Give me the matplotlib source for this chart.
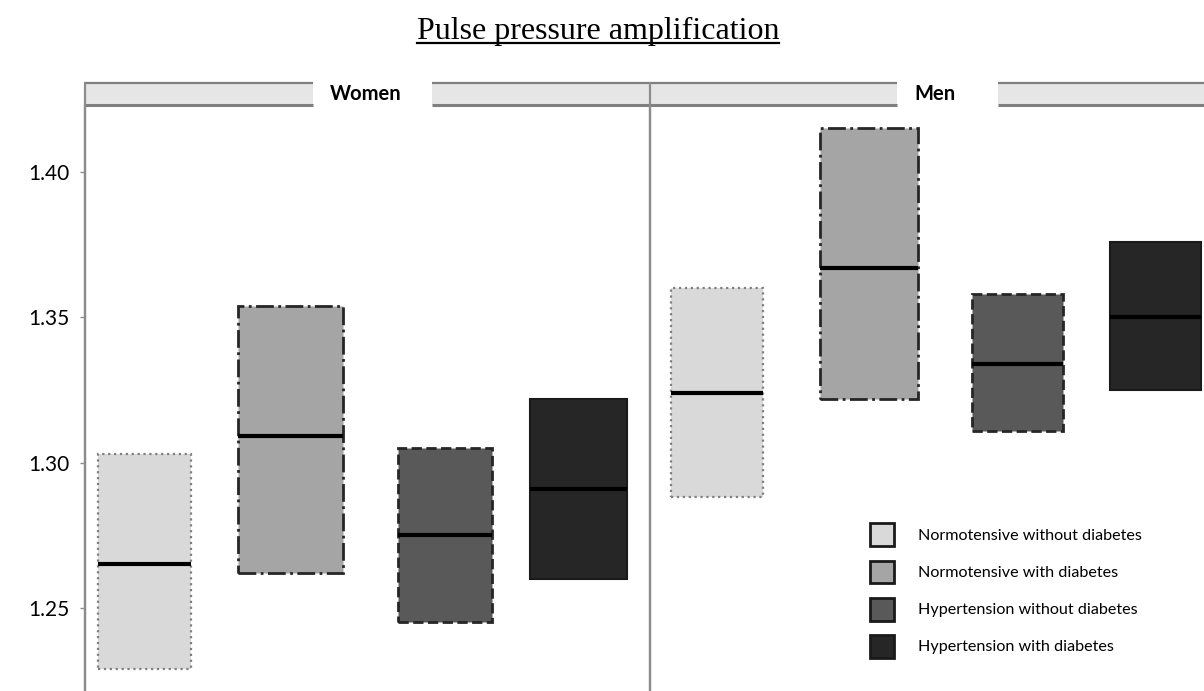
import matplotlib

matplotlib.use("Agg")
import matplotlib.pyplot as plt
from matplotlib.lines import Line2D
from matplotlib.patches import Patch, Rectangle

# Pulse pressure amplification by group: lower bound, median, upper bound
groups = ["Normotensive without diabetes", "Normotensive with diabetes",
          "Hypertension without diabetes", "Hypertension with diabetes"]
panels = ["Women", "Men"]
women_low = [1.229, 1.262, 1.245, 1.260]
women_med = [1.265, 1.309, 1.275, 1.291]
women_high = [1.303, 1.354, 1.305, 1.322]
men_low = [1.288, 1.322, 1.311, 1.325]
men_med = [1.324, 1.367, 1.334, 1.350]
men_high = [1.360, 1.415, 1.358, 1.376]
yticks = [1.25, 1.30, 1.35, 1.40]

FILL = ["#d9d9d9", "#a5a5a5", "#595959", "#262626"]
EDGE = ["#7f7f7f", "#262626", "#262626", "#1a1a1a"]
STYLE = [":", "-.", "--", "-"]
EDGE_W = [1.6, 2.0, 2.0, 1.5]
LINE_GREY = "#8c8c8c"
SANS = ["Lato", "DejaVu Sans"]

W, H = 1204, 691
fig = plt.figure(figsize=(W / 100, H / 100), dpi=100)


def px_box(x0, x1, y_top, y_bot):
    """Figure-fraction rectangle from pixel edges (origin top-left)."""
    return [x0 / W, 1 - y_bot / H, (x1 - x0) / W, (y_bot - y_top) / H]


# panel geometry in pixels: each panel is 565 px wide, strip 82-104 px
panel_x = [85, 650]
panel_w = 565
plot_top, plot_bot = 105, 691
# box centres/widths within each panel (pixel units of the panel's x scale)
box_pos = [[59, 205, 360, 493], [67, 219, 367, 505]]
box_w = [[93, 105, 94, 97], [92, 98, 91, 91]]
strip_gap = [(0.404, 0.614), (0.437, 0.616)]
label_x = [0.496, 0.504]

ylo = 1.40 - (plot_bot - 172) / 2906.0
yhi = 1.40 + (172 - plot_top) / 2906.0

data = [(women_low, women_med, women_high), (men_low, men_med, men_high)]
strip_h = 22 / (plot_bot - plot_top)

for k, name in enumerate(panels):
    x0 = panel_x[k]
    ax = fig.add_axes(px_box(x0, x0 + panel_w, plot_top, plot_bot))
    ax.set_xlim(0, panel_w)
    ax.set_ylim(ylo, yhi)
    low, med, high = data[k]
    for i in range(len(groups)):
        pos, w = box_pos[k][i], box_w[k][i]
        ax.bar(pos, high[i] - low[i], bottom=low[i], width=w, color=FILL[i],
               edgecolor=EDGE[i], linestyle=STYLE[i], linewidth=EDGE_W[i], zorder=2)
        ax.hlines(med[i], pos - w / 2, pos + w / 2, color="black", linewidth=3, zorder=3)

    for side in ("top", "right", "bottom"):
        ax.spines[side].set_visible(False)
    ax.spines["left"].set_color(LINE_GREY)
    ax.spines["left"].set_linewidth(1.6)
    ax.set_xticks([])
    if k == 0:
        ax.set_yticks(yticks)
        ax.set_yticklabels([f"{t:.2f}" for t in yticks], fontsize=15, family=SANS)
        ax.tick_params(axis="y", length=3.5, width=1, color=LINE_GREY, pad=8)
    else:
        ax.set_yticks([])

    # panel strip with a white gap around the label
    g0, g1 = strip_gap[k]
    for a, b in ((0, g0), (g1, 1.0)):
        ax.add_patch(Rectangle((a, 1.0), b - a, strip_h, transform=ax.transAxes,
                               facecolor="#e6e6e6", edgecolor="none", clip_on=False))
        ax.plot([a, b], [1.0, 1.0], transform=ax.transAxes, color="#7f7f7f",
                linewidth=2.2, clip_on=False, solid_capstyle="butt")
        ax.plot([a, b], [1.0 + strip_h] * 2, transform=ax.transAxes, color="#7f7f7f",
                linewidth=1.6, clip_on=False, solid_capstyle="butt")
    ax.plot([0, 0], [0, 1.0 + strip_h], transform=ax.transAxes, color=LINE_GREY,
            linewidth=1.6, clip_on=False)
    ax.text(label_x[k], 1.0 + strip_h / 2, name, transform=ax.transAxes,
            ha="center", va="center", fontsize=14.5, fontweight="bold", family=SANS)

handles = [Patch(facecolor=FILL[i], edgecolor="#1a1a1a", linewidth=2) for i in range(4)]
fig.legend(handles, groups, loc="upper left", bbox_to_anchor=(864 / W, 1 - 517 / H),
           frameon=False, prop={"family": SANS, "size": 11.6},
           handlelength=1.45, handleheight=1.8, labelspacing=0.89, handletextpad=1.5,
           borderaxespad=0)

title = fig.text(0.4965, 1 - 39 / H, "Pulse pressure amplification", ha="center",
                 va="baseline", fontsize=23, family="Liberation Serif")
fig.canvas.draw()
bb = title.get_window_extent().transformed(fig.transFigure.inverted())
uy = 1 - 43 / H
fig.add_artist(Line2D([bb.x0, bb.x1], [uy, uy], transform=fig.transFigure,
                      color="black", linewidth=1.6))

fig.savefig("out.png", dpi=100)
